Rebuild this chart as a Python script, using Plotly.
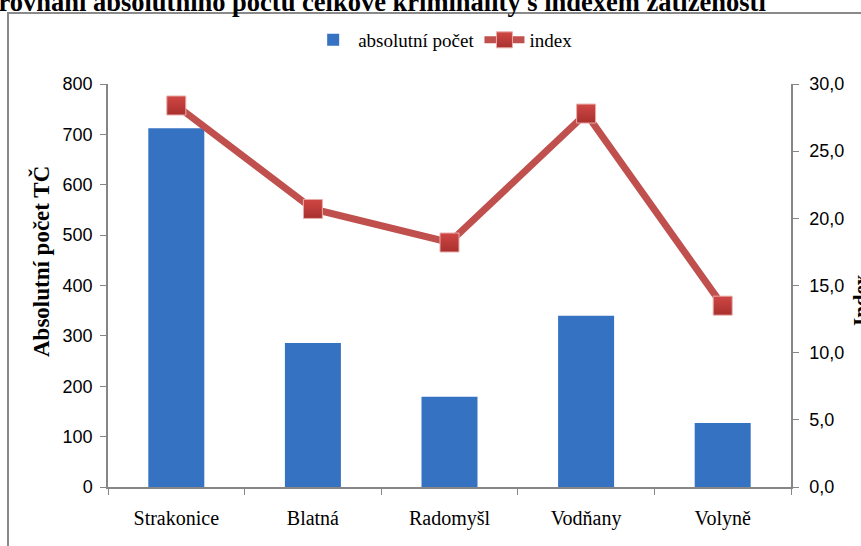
import plotly.graph_objects as go

# --- data ---
categories = ["Strakonice", "Blatná", "Radomyšl", "Vodňany", "Volyně"]
absolute_count = [712, 286, 179, 340, 127]
index_values = [28.4, 20.7, 18.2, 27.8, 13.5]
left_ticks = [0, 100, 200, 300, 400, 500, 600, 700, 800]
right_ticks = [0, 5, 10, 15, 20, 25, 30]

title_text = "Porovnání absolutního počtu celkové kriminality s indexem zatíženosti"
left_title = "Absolutní počet TČ"
right_title = "Index"

W, H = 861, 546
L, R, T, B = 108, 70, 84, 59
pw = W - L - R
ph = H - T - B

def px(x):
    return (x - L) / pw

def py(y):
    return (H - B - y) / ph

SERIF = "Liberation Serif, Times New Roman, serif"
SANS = "Liberation Sans, Arial, sans-serif"
AXIS_GRAY = "#868686"

fig = go.Figure()
fig.add_trace(go.Bar(
    x=categories, y=absolute_count, name="absolutní počet",
    marker=dict(color="#3672C2", line=dict(width=0)),
    width=0.41, yaxis="y",
))
fig.add_trace(go.Scatter(
    x=categories, y=index_values, name="index", yaxis="y2",
    mode="lines+markers",
    line=dict(color="#C0504D", width=7),
    marker=dict(symbol="square", size=19, color="#D04744",
                gradient=dict(type="vertical", color="#A8302E"),
                line=dict(color="#E8AEAC", width=1)),
))

fig.update_layout(
    width=W, height=H,
    margin=dict(l=L, r=R, t=T, b=B, pad=0, autoexpand=False),
    paper_bgcolor="white", plot_bgcolor="white",
    separators=", ",
    showlegend=True,
    legend=dict(orientation="h", x=0.49, xanchor="center", y=py(40), yanchor="middle",
                font=dict(family=SERIF, size=19, color="black"),
                bgcolor="rgba(0,0,0,0)", itemwidth=40, tracegroupgap=0),
    xaxis=dict(showline=True, linecolor=AXIS_GRAY, linewidth=1.5, automargin=False,
               ticks="outside", tickson="boundaries", ticklen=6, tickcolor=AXIS_GRAY,
               ticklabelstandoff=12,
               tickfont=dict(family=SERIF, size=20, color="black"),
               showgrid=False, zeroline=False),
    yaxis=dict(range=[0, 800], tickvals=left_ticks, showline=True, linecolor=AXIS_GRAY,
               linewidth=1.5, ticks="outside", ticklen=6, tickcolor=AXIS_GRAY,
               automargin=False, ticklabelstandoff=4,
               tickfont=dict(family=SANS, size=18, color="black"),
               showgrid=False, zeroline=False),
    yaxis2=dict(range=[0, 30], tickvals=right_ticks, tickformat=".1f",
                overlaying="y", side="right", showline=True, linecolor=AXIS_GRAY,
                linewidth=1.5, ticks="outside", ticklen=6, tickcolor=AXIS_GRAY,
                automargin=False, ticklabelstandoff=7,
                tickfont=dict(family=SANS, size=18, color="black"),
                showgrid=False, zeroline=False),
)

# chart frame (extends past the right and bottom edges as in the reference)
fig.add_shape(type="rect", xref="paper", yref="paper",
              x0=px(8), x1=px(880), y0=py(570), y1=py(13),
              line=dict(color="#8A8A8A", width=2), fillcolor="rgba(0,0,0,0)",
              layer="below")

# title, cut off at the top/left as in the reference
fig.add_annotation(text="<b>" + title_text + "</b>", xref="paper", yref="paper",
                   x=px(768), xanchor="right", y=py(19), yanchor="bottom",
                   showarrow=False,
                   font=dict(family=SERIF, size=26.5, color="black"))

# axis titles
fig.add_annotation(text="<b>" + left_title + "</b>", xref="paper", yref="paper",
                   x=px(41), xanchor="center", y=py(262), yanchor="middle",
                   textangle=-90, showarrow=False,
                   font=dict(family=SERIF, size=23, color="black"))
fig.add_annotation(text="<b>" + right_title + "</b>", xref="paper", yref="paper",
                   x=px(847), xanchor="left", y=py(300), yanchor="middle",
                   textangle=-90, showarrow=False,
                   font=dict(family=SERIF, size=21, color="black"))

fig.write_html("out.html", post_script="document.body.style.margin='0';",
               config={"displayModeBar": False})
